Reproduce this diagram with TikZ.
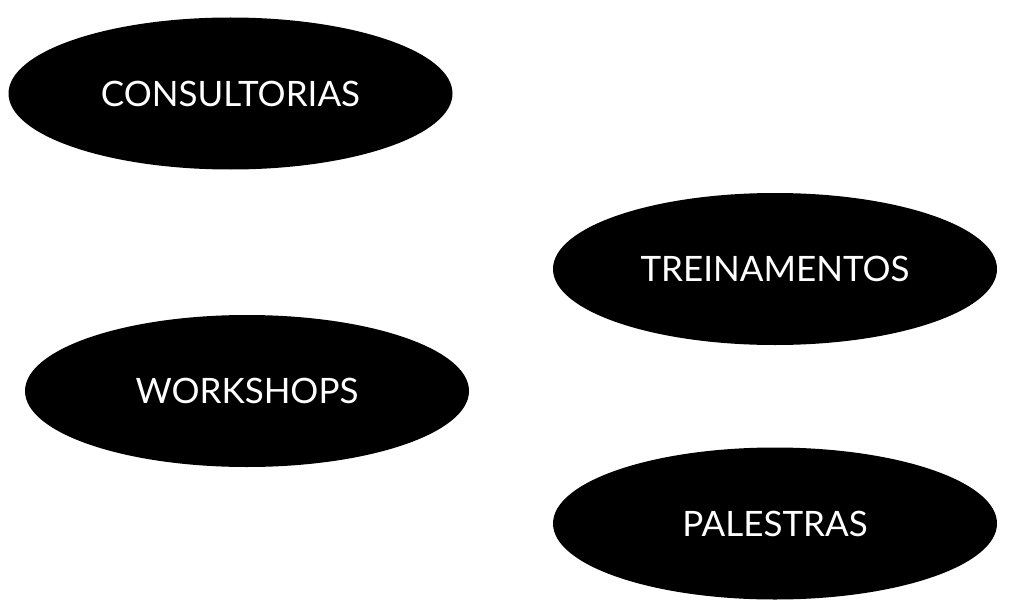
\documentclass[tikz,border=0pt]{standalone}
\usepackage{fontspec}
\setmainfont{Lato}
\usepackage{tikz}
\usetikzlibrary{shapes.geometric}

\tikzset{
    bubble/.style={ellipse, fill=black, text=white, inner sep=0pt,
        minimum width=444pt, minimum height=152pt,
        font=\fontsize{35}{38}\selectfont}
}

\begin{document}
\begin{tikzpicture}[x=1pt,y=-1pt]
    \useasboundingbox (0,0) rectangle (1024,607);
    \node[bubble] (cons)  at (230.5,93.5) {CONSULTORIAS};
    \node[bubble] (trein) at (775,269)    {TREINAMENTOS};
    \node[bubble] (work)  at (247,391)    {WORKSHOPS};
    \node[bubble] (pal)   at (775,523.5)  {PALESTRAS};
\end{tikzpicture}
\end{document}
